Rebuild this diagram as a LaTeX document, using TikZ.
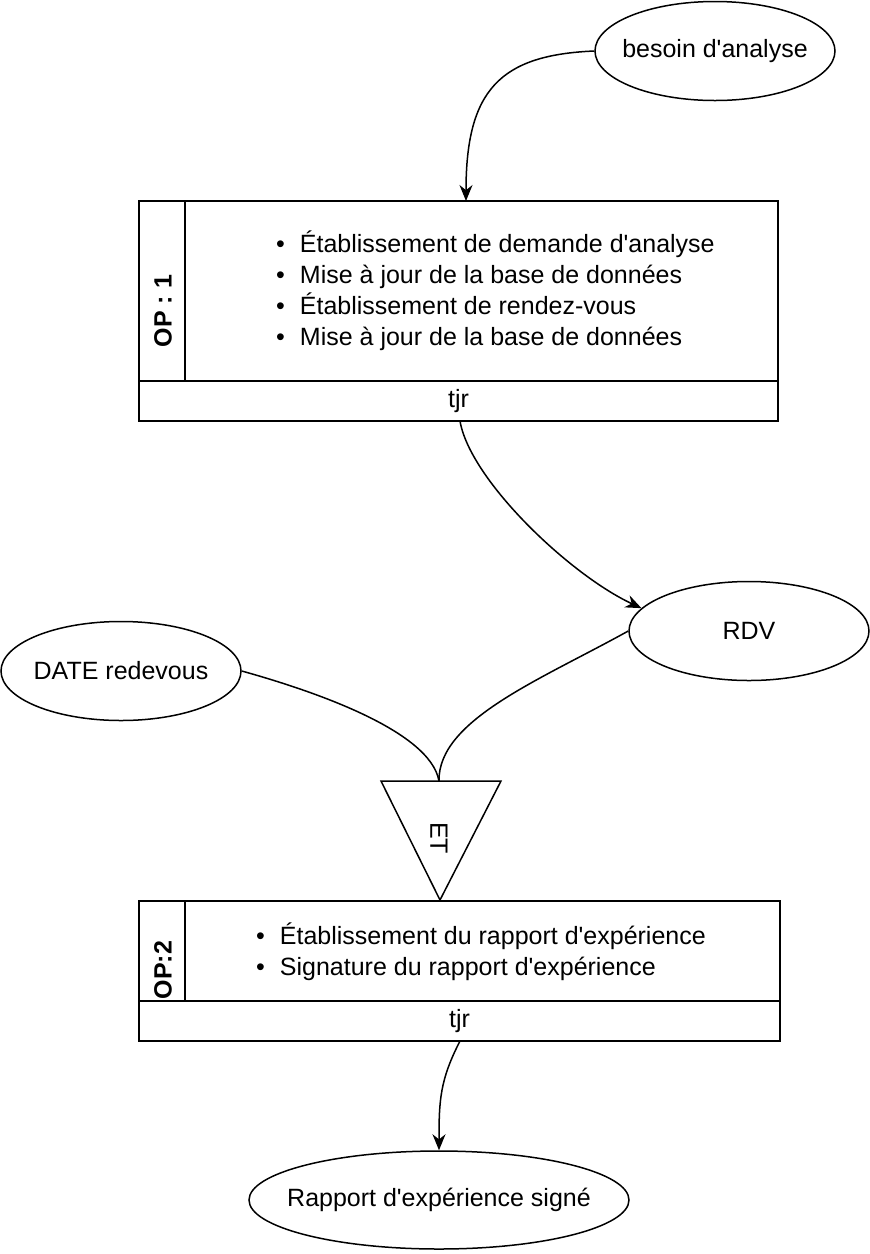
\documentclass[tikz,border=0pt]{standalone}
\usepackage{fontspec}
\setmainfont{Liberation Sans}[Ligatures=TeXOff]
\usetikzlibrary{shapes.geometric,arrows.meta}

\begin{document}
\begin{tikzpicture}[x=1pt,y=-1pt,
  every node/.style={font=\fontsize{25}{31}\selectfont, inner sep=0pt},
  oval/.style={draw, ellipse, line width=1.5pt, minimum width=240pt, minimum height=99pt},
  box/.style={draw, rectangle, line width=2pt},
  link/.style={line width=1.5pt},
  arr/.style={link, -{Stealth[length=16pt,width=13pt]}}]
\useasboundingbox (0,0) rectangle (870,1254);

\node[oval, label=center:{besoin d'analyse}] (besoin) at (715,51) {};

\node[box, minimum width=46pt, minimum height=180pt] (op1lab) at (162,291) {};
\node[box, minimum width=593pt, minimum height=180pt] (op1) at (481.5,291) {};
\node[box, minimum width=639pt, minimum height=40pt] (op1tjr) at (458.5,401) {tjr};
\node[rotate=90, font=\fontsize{25}{31}\selectfont\bfseries] (op1txt) at (163,311) {OP : 1};
\node[anchor=west, align=left] (op1list) at (276,290.5) {\textbullet\hspace{15pt}Établissement de demande d'analyse\\
\textbullet\hspace{15pt}Mise à jour de la base de données\\
\textbullet\hspace{15pt}Établissement de rendez-vous\\
\textbullet\hspace{15pt}Mise à jour de la base de données};

\node[oval, label=center:RDV] (rdv) at (749,631) {};
\node[oval, label=center:{DATE redevous}] (date) at (121,671) {};

\coordinate (etl) at (381,781);
\coordinate (etr) at (501,781);
\coordinate (etb) at (440,900);
\coordinate (ettop) at (439,781);
\draw[link] (etl) -- (etr) -- (etb) -- cycle;
\node[rotate=-90] (et) at (439,838) {ET};

\node[box, minimum width=46pt, minimum height=100pt] (op2lab) at (162,951) {};
\node[box, minimum width=595pt, minimum height=100pt] (op2) at (482.5,951) {};
\node[box, minimum width=641pt, minimum height=40pt] (op2tjr) at (459.5,1021) {tjr};
\node[rotate=90, font=\fontsize{25}{31}\selectfont\bfseries] (op2txt) at (163,970) {OP:2};
\node[anchor=west, align=left] (op2list) at (256,952) {\textbullet\hspace{15pt}Établissement du rapport d'expérience\\
\textbullet\hspace{15pt}Signature du rapport d'expérience};

\node[oval, minimum width=380pt, minimum height=98pt, label=center:{Rapport d'expérience signé}] (rapport) at (439,1200) {};

\coordinate (in1) at (466,201);
\coordinate (out1) at (460,421);
\coordinate (out2) at (460,1041);

\draw[arr] (besoin.west) .. controls (500,55) and (466,90) .. (in1);
\draw[arr] (out1) .. controls (470,480) and (570,575) .. (rdv.168);
\draw[link] (date.east) .. controls (310,690) and (430,730) .. (ettop);
\draw[link] (rdv.west) .. controls (540,680) and (438,720) .. (ettop);
\draw[arr] (out2) .. controls (440,1080) and (439,1100) .. (rapport.north);

\end{tikzpicture}
\end{document}
